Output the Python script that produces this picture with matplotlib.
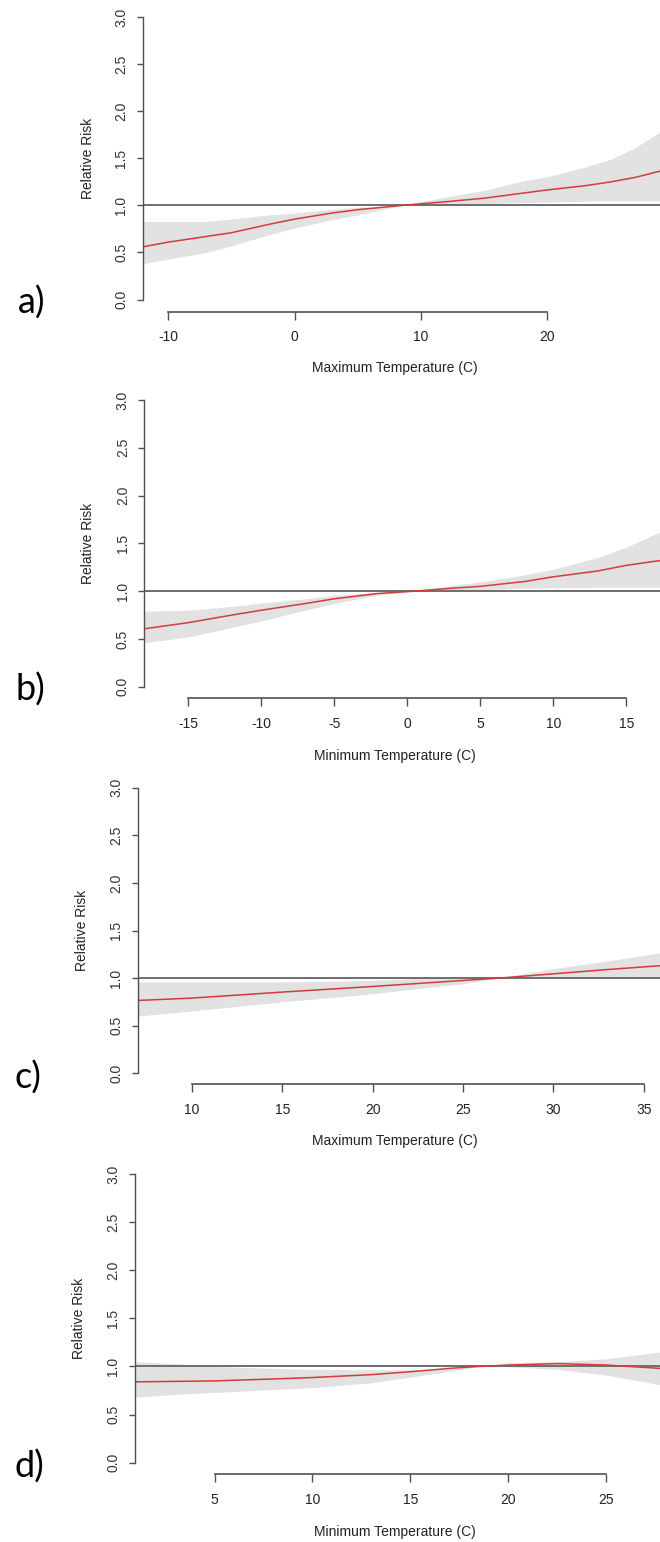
import numpy as np
import matplotlib
matplotlib.use("Agg")
import matplotlib.pyplot as plt

# ---- data ----
# a) maximum temperature
xa = [-12.0, -10, -7, -5, -2, 0, 3, 5, 8.5, 10, 12, 15, 18, 20, 23, 25, 27, 28.9]
rra = [0.56, 0.61, 0.67, 0.71, 0.80, 0.855, 0.92, 0.955, 1.0, 1.018, 1.04, 1.077, 1.13, 1.165, 1.21, 1.25, 1.30, 1.365]
upa = [0.83, 0.83, 0.83, 0.856, 0.90, 0.92, 0.96, 0.98, 1.0, 1.04, 1.09, 1.16, 1.26, 1.305, 1.41, 1.49, 1.62, 1.78]
loa = [0.38, 0.43, 0.50, 0.57, 0.69, 0.76, 0.85, 0.90, 1.0, 1.005, 1.01, 1.02, 1.03, 1.035, 1.045, 1.05, 1.05, 1.05]

# b) minimum temperature
xb = [-18, -15, -12, -10, -7, -5, -2, 0, 0.5, 3, 5, 8, 10, 13, 15, 17.3]
rrb = [0.606, 0.67, 0.75, 0.80, 0.87, 0.92, 0.975, 0.995, 1.0, 1.03, 1.05, 1.10, 1.15, 1.21, 1.27, 1.32]
upb = [0.79, 0.80, 0.84, 0.875, 0.92, 0.955, 0.99, 1.0, 1.0, 1.06, 1.095, 1.17, 1.23, 1.35, 1.46, 1.62]
lob = [0.46, 0.52, 0.62, 0.69, 0.80, 0.87, 0.96, 0.99, 1.0, 1.005, 1.015, 1.03, 1.035, 1.04, 1.04, 1.04]

# c) maximum temperature
xc = [7, 10, 15, 20, 23, 25, 27, 30, 33, 35.9]
rrc = [0.765, 0.79, 0.853, 0.912, 0.95, 0.975, 1.0, 1.045, 1.09, 1.13]
upc = [0.96, 0.96, 0.96, 0.975, 1.0, 1.02, 1.0, 1.10, 1.18, 1.265]
loc = [0.60, 0.655, 0.75, 0.835, 0.90, 0.94, 1.0, 1.01, 1.01, 1.005]

# d) minimum temperature
xd = [0.94, 3, 5, 8, 10, 13, 15, 17, 18.5, 20, 22.5, 25, 27.75]
rrd = [0.84, 0.845, 0.85, 0.87, 0.885, 0.915, 0.945, 0.98, 1.0, 1.014, 1.03, 1.015, 0.98]
upd = [1.05, 1.03, 1.0, 0.98, 0.97, 0.965, 0.965, 0.98, 1.0, 1.04, 1.05, 1.08, 1.15]
lod = [0.68, 0.71, 0.73, 0.76, 0.78, 0.83, 0.89, 0.95, 1.0, 0.997, 0.97, 0.91, 0.81]

yticks = [0.0, 0.5, 1.0, 1.5, 2.0, 2.5, 3.0]

W, H = 660, 1542
fig = plt.figure(figsize=(W / 100, H / 100), dpi=100)

plain = ['Liberation Sans', 'DejaVu Sans']
axcol = '#505050'


def panel(x, rr, lo, up, xt, xlab, tag, yx, y3, y0, xaxy, ticky, xlaby, ylabx, tagxy):
    # pixel layout -> figure fractions
    ax = fig.add_axes([yx / W, 1 - y0 / H, 1 - yx / W, (y0 - y3) / H])
    ax.fill_between(x, lo, up, color='#e2e2e2', lw=0)
    ax.axhline(1.0, color='#6e6e6e', lw=1.4)
    ax.plot(x, rr, color='#d43c3c', lw=1.1)
    ax.set_xlim(x[0], x[-1])
    ax.set_ylim(0, 3)
    for s in ['top', 'right']:
        ax.spines[s].set_visible(False)
    ax.spines['left'].set_color(axcol)
    ax.spines['bottom'].set_color(axcol)
    ax.spines['left'].set_linewidth(1.0)
    ax.spines['bottom'].set_linewidth(1.2)
    ax.spines['bottom'].set_position(('outward', (xaxy - y0) * 0.72))
    ax.spines['bottom'].set_bounds(xt[0], xt[-1])
    ax.set_xticks(xt)
    ax.set_xticklabels([str(v) for v in xt], family=plain, fontsize=10, color='#222222')
    ax.set_yticks(yticks)
    ax.set_yticklabels(['%.1f' % v for v in yticks], family=plain, fontsize=10,
                       rotation=90, va='center', color='#333333')
    ax.tick_params(axis='y', length=4.5, width=1.0, color=axcol, pad=6)
    ax.tick_params(axis='x', length=5.5, width=1.0, color=axcol, pad=(ticky - xaxy - 14) * 0.72)
    fig.text(ylabx / W, 1 - (y3 + y0) / 2 / H, 'Relative Risk', rotation=90,
             ha='center', va='center', family=plain, fontsize=10, color='#222222')
    fig.text(395 / W, 1 - xlaby / H, xlab, ha='center', va='center',
             family=plain, fontsize=10, color='#222222')
    fig.text(tagxy[0] / W, 1 - tagxy[1] / H, tag, ha='center', va='center',
             family=['Lato', 'DejaVu Sans'], fontsize=26, color='black')
    return ax


panel(xa, rra, loa, upa, [-10, 0, 10, 20], 'Maximum Temperature (C)', 'a)',
      143, 17.3, 299.5, 312, 336, 368, 88, (32, 303))
panel(xb, rrb, lob, upb, [-15, -10, -5, 0, 5, 10, 15], 'Minimum Temperature (C)', 'b)',
      144.4, 400, 686.7, 697.7, 723, 755.7, 88, (30, 690))
panel(xc, rrc, loc, upc, [10, 15, 20, 25, 30, 35], 'Maximum Temperature (C)', 'c)',
      137.6, 787.7, 1073.3, 1084, 1109, 1141, 82, (28, 1078))
panel(xd, rrd, lod, upd, [5, 10, 15, 20, 25], 'Minimum Temperature (C)', 'd)',
      135, 1174, 1462.7, 1473.7, 1499, 1531.7, 79, (29, 1467))

fig.savefig('out.png', dpi=100)
